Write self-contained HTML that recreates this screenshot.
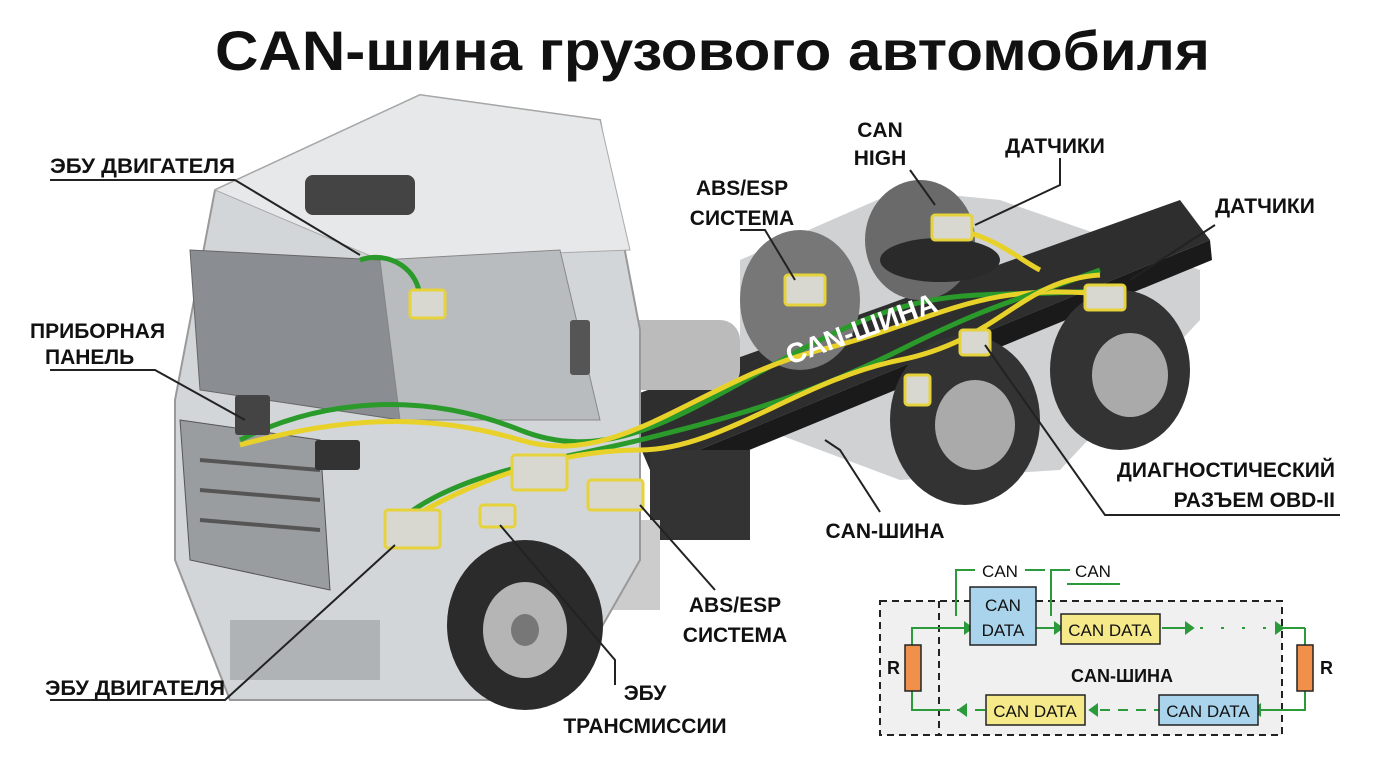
<!DOCTYPE html>
<html><head><meta charset="utf-8"><style>
body{margin:0;background:#fff;width:1376px;height:768px;overflow:hidden;font-family:"Liberation Sans",sans-serif}
.t{font-family:"Liberation Sans",sans-serif;font-weight:bold;fill:#111}
</style></head><body>
<svg width="1376" height="768" viewBox="0 0 1376 768" xmlns="http://www.w3.org/2000/svg">
<rect width="1376" height="768" fill="#fff"/>
<text x="215" y="70" class="t" font-size="56" textLength="995" lengthAdjust="spacingAndGlyphs">CAN-шина грузового автомобиля</text>
<!-- rear body grey -->
<polygon points="740,260 900,190 1000,200 1200,270 1200,320 1060,470 900,480 740,420" fill="#cfd1d3"/>
<!-- chassis frame -->
<polygon points="620,400 1180,200 1210,240 650,470" fill="#2e2e2e"/>
<polygon points="650,470 1210,240 1212,260 652,490" fill="#1a1a1a"/>
<!-- rear wheels -->
<ellipse cx="800" cy="300" rx="60" ry="70" fill="#777"/>
<ellipse cx="920" cy="240" rx="55" ry="60" fill="#6a6a6a"/>
<ellipse cx="965" cy="420" rx="75" ry="85" fill="#333"/>
<ellipse cx="975" cy="425" rx="40" ry="45" fill="#aaa"/>
<ellipse cx="1120" cy="370" rx="70" ry="80" fill="#333"/>
<ellipse cx="1130" cy="375" rx="38" ry="42" fill="#aaa"/>
<ellipse cx="940" cy="260" rx="60" ry="22" fill="#2a2a2a"/>
<!-- fuel tank / boxes -->
<rect x="620" y="320" width="120" height="70" rx="20" fill="#bbb"/>
<rect x="650" y="450" width="100" height="90" fill="#333"/>
<rect x="600" y="520" width="60" height="90" fill="#ccc"/>
<!-- cab -->
<polygon points="215,190 420,95 600,120 640,330 640,560 560,700 230,700 175,560 175,400" fill="#d3d6d8" stroke="#999" stroke-width="2"/>
<polygon points="215,190 420,95 600,120 630,250 380,260" fill="#e6e8ea" stroke="#aaa"/>
<rect x="305" y="175" width="110" height="40" rx="8" fill="#444"/>
<polygon points="190,250 380,260 400,420 200,390" fill="#8a8e92" stroke="#666"/>
<polygon points="380,260 560,250 600,420 400,420" fill="#b9bcbf" stroke="#888"/>
<polygon points="180,420 320,440 330,590 190,560" fill="#9a9da0" stroke="#555"/>
<g stroke="#555" stroke-width="4"><line x1="200" y1="460" x2="320" y2="470"/><line x1="200" y1="490" x2="320" y2="500"/><line x1="200" y1="520" x2="320" y2="530"/></g>
<rect x="230" y="620" width="150" height="60" fill="#b0b3b6"/>
<ellipse cx="525" cy="625" rx="78" ry="85" fill="#2b2b2b"/>
<ellipse cx="525" cy="630" rx="42" ry="48" fill="#b5b5b5"/>
<ellipse cx="525" cy="630" rx="14" ry="16" fill="#777"/>
<!-- CAN bus wires -->
<g fill="none" stroke-width="5">
<path d="M240,440 C320,400 420,390 520,430 S700,400 820,340 S980,300 1110,290" stroke="#2a9a2a"/>
<path d="M240,445 C330,420 420,410 520,440 S700,380 820,350 S980,280 1110,295" stroke="#e8d22a"/>
<path d="M400,520 C460,470 560,460 640,440 S800,400 900,350 S1020,300 1100,270" stroke="#2a9a2a"/>
<path d="M400,525 C470,480 560,450 640,450 S800,380 900,360 S1020,280 1100,275" stroke="#e8d22a"/>
<path d="M360,260 C390,250 420,270 420,300" stroke="#2a9a2a"/>
<path d="M960,230 C1000,240 1020,260 1040,270" stroke="#e8d22a"/>
</g>
<text x="790" y="365" class="t" font-size="28" transform="rotate(-20 790 365)" style="fill:#fff">CAN-ШИНА</text>
<!-- modules -->
<g fill="#d8d8d0" stroke="#e6d23a" stroke-width="3">
<rect x="385" y="510" width="55" height="38" rx="3"/>
<rect x="512" y="455" width="55" height="35" rx="3"/>
<rect x="588" y="480" width="55" height="30" rx="3"/>
<rect x="480" y="505" width="35" height="22" rx="3"/>
<rect x="410" y="290" width="35" height="28" rx="3"/>
<rect x="785" y="275" width="40" height="30" rx="3"/>
<rect x="932" y="215" width="40" height="25" rx="3"/>
<rect x="1085" y="285" width="40" height="25" rx="3"/>
<rect x="960" y="330" width="30" height="25" rx="3"/>
<rect x="905" y="375" width="25" height="30" rx="3"/>
</g>
<rect x="315" y="440" width="45" height="30" rx="3" fill="#333"/>
<rect x="235" y="395" width="35" height="40" rx="3" fill="#444"/>
<rect x="570" y="320" width="20" height="55" rx="3" fill="#555"/>
<!-- leader lines -->
<g stroke="#222" stroke-width="2" fill="none">
<polyline points="50,180 235,180 360,255"/>
<polyline points="50,370 155,370 245,420"/>
<polyline points="50,700 225,700 395,545"/>
<polyline points="615,685 615,660 500,525"/>
<polyline points="715,590 640,505"/>
<polyline points="740,230 765,230 795,280"/>
<polyline points="910,170 935,205"/>
<polyline points="1060,158 1060,185 975,225"/>
<polyline points="1215,225 1130,280"/>
<polyline points="1340,515 1105,515 985,345"/>
<polyline points="880,512 840,450 825,440"/>
</g>
<g class="t" font-size="21">
<text x="50" y="173" textLength="185" lengthAdjust="spacingAndGlyphs">ЭБУ ДВИГАТЕЛЯ</text>
<text x="30" y="338">ПРИБОРНАЯ</text>
<text x="45" y="364">ПАНЕЛЬ</text>
<text x="45" y="695" textLength="180" lengthAdjust="spacingAndGlyphs">ЭБУ ДВИГАТЕЛЯ</text>
<text x="645" y="700" text-anchor="middle">ЭБУ</text>
<text x="645" y="733" text-anchor="middle">ТРАНСМИССИИ</text>
<text x="735" y="612" text-anchor="middle">ABS/ESP</text>
<text x="735" y="642" text-anchor="middle">СИСТЕМА</text>
<text x="742" y="195" text-anchor="middle">ABS/ESP</text>
<text x="742" y="225" text-anchor="middle">СИСТЕМА</text>
<text x="880" y="137" text-anchor="middle">CAN</text>
<text x="880" y="165" text-anchor="middle">HIGH</text>
<text x="1055" y="153" text-anchor="middle">ДАТЧИКИ</text>
<text x="1265" y="213" text-anchor="middle">ДАТЧИКИ</text>
<text x="1335" y="477" text-anchor="end">ДИАГНОСТИЧЕСКИЙ</text>
<text x="1335" y="507" text-anchor="end">РАЗЪЕМ OBD-II</text>
<text x="885" y="538" text-anchor="middle">CAN-ШИНА</text>
</g>
<!-- schematic -->
<rect x="880" y="601" width="402" height="134" fill="#f0f0f0" stroke="#222" stroke-width="2" stroke-dasharray="7,5"/>
<line x1="939" y1="601" x2="939" y2="735" stroke="#222" stroke-width="2" stroke-dasharray="7,5"/>
<g stroke="#2a9a3a" stroke-width="2" fill="#2a9a3a">
<polyline points="912,652 912,628 965,628" fill="none"/>
<polyline points="912,690 912,710 950,710" fill="none"/>
<polyline points="956,616 956,570 975,570" fill="none"/>
<line x1="1025" y1="570" x2="1045" y2="570"/>
<polyline points="1051,616 1051,570 1070,570" fill="none"/>
<line x1="1067" y1="584" x2="1120" y2="584"/>
<line x1="1036" y1="628" x2="1055" y2="628"/>
<line x1="1162" y1="628" x2="1190" y2="628"/>
<line x1="1200" y1="628" x2="1280" y2="628" stroke-dasharray="3,18"/>
<line x1="1280" y1="628" x2="1305" y2="628"/>
<polyline points="1305,628 1305,645" fill="none"/>
<polyline points="1305,690 1305,710 1255,710" fill="none"/>
<line x1="1100" y1="710" x2="1160" y2="710" stroke-dasharray="10,8"/>
<line x1="957" y1="710" x2="985" y2="710" stroke-dasharray="10,8"/>
<polygon points="965,623 972,628 965,633"/><polygon points="1055,623 1062,628 1055,633"/><polygon points="1186,623 1193,628 1186,633"/><polygon points="1276,623 1283,628 1276,633"/>
<polygon points="1260,705 1253,710 1260,715"/><polygon points="1097,705 1090,710 1097,715"/><polygon points="966,705 959,710 966,715"/>
</g>
<rect x="970" y="587" width="66" height="58" fill="#a9d4ec" stroke="#222" stroke-width="1.5"/>
<rect x="1061" y="614" width="99" height="30" fill="#f5e98a" stroke="#222" stroke-width="1.5"/>
<rect x="986" y="695" width="99" height="30" fill="#f5e98a" stroke="#222" stroke-width="1.5"/>
<rect x="1159" y="695" width="99" height="30" fill="#a9d4ec" stroke="#222" stroke-width="1.5"/>
<rect x="905" y="645" width="16" height="46" fill="#f0904a" stroke="#222" stroke-width="1.5"/>
<rect x="1297" y="645" width="16" height="46" fill="#f0904a" stroke="#222" stroke-width="1.5"/>
<g font-family="Liberation Sans,sans-serif" font-size="17" fill="#111">
<text x="1003" y="611" text-anchor="middle">CAN</text>
<text x="1003" y="636" text-anchor="middle">DATA</text>
<text x="1110" y="636" text-anchor="middle">CAN DATA</text>
<text x="1035" y="717" text-anchor="middle">CAN DATA</text>
<text x="1208" y="717" text-anchor="middle">CAN DATA</text>
<text x="1000" y="577" text-anchor="middle">CAN</text>
<text x="1093" y="577" text-anchor="middle">CAN</text>
</g>
<g class="t" font-size="18"><text x="887" y="674">R</text><text x="1320" y="674">R</text><text x="1122" y="682" text-anchor="middle">CAN-ШИНА</text></g>
</svg>
</body></html>
